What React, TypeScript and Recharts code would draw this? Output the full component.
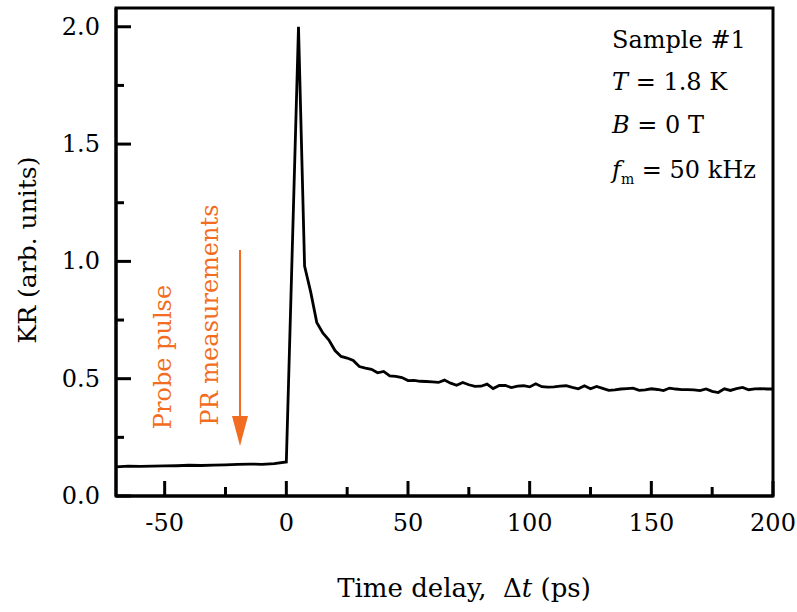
import React from 'react';
import {
  LineChart,
  Line,
  XAxis,
  YAxis,
  ReferenceArea,
  Customized,
} from 'recharts';

// Kerr rotation transient
const delayPs = [
  -70, -65, -60, -55, -50, -45, -40, -35, -30, -25, -20, -15, -10, -5, 0,
  5, 7.5, 10, 12.5, 15, 17.5, 20, 22.5, 25, 27.5, 30, 32.5, 35, 37.5, 40,
  42.5, 45, 47.5, 50, 52.5, 55, 57.5, 60, 62.5, 65, 67.5, 70, 72.5, 75, 77.5,
  80, 82.5, 85, 87.5, 90, 92.5, 95, 97.5, 100, 102.5, 105, 107.5, 110, 112.5,
  115, 117.5, 120, 122.5, 125, 127.5, 130, 132.5, 135, 137.5, 140, 142.5, 145,
  147.5, 150, 152.5, 155, 157.5, 160, 162.5, 165, 167.5, 170, 172.5, 175,
  177.5, 180, 182.5, 185, 187.5, 190, 192.5, 195, 197.5, 200,
];

const krValues = [
  0.124, 0.127, 0.126, 0.127, 0.128, 0.129, 0.131, 0.13, 0.132, 0.133, 0.135,
  0.136, 0.135, 0.138, 0.145,
  2.0, 0.98, 0.87, 0.74, 0.695, 0.665, 0.62, 0.595, 0.588, 0.578, 0.552,
  0.545, 0.54, 0.525, 0.531, 0.512, 0.51, 0.505, 0.492, 0.493, 0.489, 0.488,
  0.486, 0.484, 0.494, 0.481, 0.472, 0.484, 0.474, 0.467, 0.468, 0.477, 0.458,
  0.471, 0.471, 0.462, 0.468, 0.47, 0.465, 0.478, 0.466, 0.464, 0.465, 0.468,
  0.47, 0.463, 0.457, 0.47, 0.457, 0.467, 0.459, 0.45, 0.452, 0.456, 0.458,
  0.46, 0.45, 0.452, 0.457, 0.454, 0.449, 0.46, 0.456, 0.453, 0.453, 0.452,
  0.449, 0.456, 0.446, 0.441, 0.457, 0.45, 0.458, 0.463, 0.453, 0.457, 0.458,
  0.456, 0.456,
];

const xTicks = [-50, -25, 0, 25, 50, 75, 100, 125, 150, 175, 200];
const yTicks = [0, 0.25, 0.5, 0.75, 1.0, 1.25, 1.5, 1.75, 2.0];

const data = delayPs.map((t, i) => ({ t, kr: krValues[i] }));

const FONT = '"DejaVu Serif", serif';
const ORANGE = '#f26d22';

const XTick = (props: any) => {
  const { x, y, payload } = props;
  const major = payload.value % 50 === 0;
  return (
    <g>
      <line x1={x} y1={y} x2={x} y2={y - (major ? 15 : 9)} stroke="#000" strokeWidth={3} />
      {major && (
        <text x={x} y={y + 27} textAnchor="middle" dominantBaseline="central"
          fontFamily={FONT} fontSize={24} fill="#000">
          {payload.value}
        </text>
      )}
    </g>
  );
};

const YTick = (props: any) => {
  const { x, y, payload } = props;
  const major = Math.abs((payload.value * 2) % 1) < 1e-6;
  return (
    <g>
      <line x1={x} y1={y} x2={x + (major ? 15 : 8)} y2={y} stroke="#000" strokeWidth={3} />
      {major && (
        <text x={x - 16} y={y} textAnchor="end" dominantBaseline="central"
          fontFamily={FONT} fontSize={24} fill="#000">
          {payload.value.toFixed(1)}
        </text>
      )}
    </g>
  );
};

const Annotations = () => (
  <g fontFamily={FONT} fill="#000">
    <text x={27} y={250} fontSize={25} textAnchor="middle" dominantBaseline="central"
      transform="rotate(-90 27 250)">
      KR (arb. units)
    </text>
    <text x={464} y={588} fontSize={26} textAnchor="middle" dominantBaseline="central">
      Time delay,{'\u00a0 '}Δ<tspan fontStyle="italic">t</tspan> (ps)
    </text>

    <text x={612} y={40} fontSize={24} dominantBaseline="central">Sample #1</text>
    <text x={612} y={82} fontSize={24} dominantBaseline="central">
      <tspan fontStyle="italic">T</tspan> = 1.8 K
    </text>
    <text x={612} y={125} fontSize={24} dominantBaseline="central">
      <tspan fontStyle="italic">B</tspan> = 0 T
    </text>
    <text x={612} y={170} fontSize={24} dominantBaseline="central">
      <tspan fontStyle="italic">f</tspan>
      <tspan fontSize={14} dy={9}>m</tspan>
      <tspan dy={-9}> = 50 kHz</tspan>
    </text>

    <g fill={ORANGE}>
      <text x={163} y={357} fontSize={24} textAnchor="middle" dominantBaseline="central"
        transform="rotate(-90 163 357)">
        Probe pulse
      </text>
      <text x={210} y={315} fontSize={24} textAnchor="middle" dominantBaseline="central"
        transform="rotate(-90 210 315)">
        PR measurements
      </text>
      <line x1={240} y1={250} x2={240} y2={420} stroke={ORANGE} strokeWidth={2} />
      <polygon points="232,416 248,416 240,446" />
    </g>
  </g>
);

export default function App() {
  return (
    <div style={{ position: 'absolute', left: 0, top: 0, width: 797, height: 612, background: '#fff' }}>
      <LineChart width={797} height={612} data={data}
        margin={{ top: 8, right: 24, bottom: 0, left: 0 }}>
        <XAxis dataKey="t" type="number" domain={[-70, 200]} ticks={xTicks}
          height={116} tickSize={0} tickMargin={0} tickLine={false}
          axisLine={{ stroke: '#000', strokeWidth: 3 }} tick={<XTick />} interval={0} />
        <YAxis type="number" domain={[0, 2.08]} ticks={yTicks} width={116}
          tickSize={0} tickMargin={0} tickLine={false}
          axisLine={{ stroke: '#000', strokeWidth: 3 }} tick={<YTick />} interval={0} />
        <ReferenceArea x1={-70} x2={200} y1={0} y2={2.08} fill="none"
          stroke="#000" strokeWidth={3} strokeOpacity={1} />
        <Line dataKey="kr" type="linear" stroke="#000" strokeWidth={2.8}
          dot={false} isAnimationActive={false} />
        <Customized component={Annotations} />
      </LineChart>
    </div>
  );
}
